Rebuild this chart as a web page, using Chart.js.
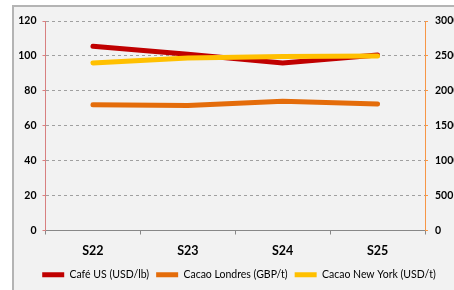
<!DOCTYPE html>
<html>
<head>
<meta charset="utf-8">
<script src="https://cdn.jsdelivr.net/npm/chart.js@4"></script>
<style>
  html, body { margin: 0; padding: 0; background: #fff; }
  #frame {
    position: absolute; left: 12px; top: 5px; width: 460px; height: 300px;
    border-left: 2px solid #b4b4b4; border-top: 2px solid #b4b4b4;
    background: #f2f2f2;
  }
  #chart { position: absolute; left: 0; top: 0; }
</style>
</head>
<body>
<div id="frame"></div>
<canvas id="chart" width="454" height="290"></canvas>
<script>
const saisons = ['S22', 'S23', 'S24', 'S25'];
const cafeUS = [105.5, 101, 96, 100.5];            // axe gauche
const cacaoLondres = [1800, 1790, 1850, 1810];     // axe droit
const cacaoNewYork = [2400, 2470, 2490, 2500];     // axe droit
const ticksGauche = [0, 20, 40, 60, 80, 100, 120];
const ticksDroite = [0, 500, 1000, 1500, 2000, 2500, 3000];

const police = "Lato, 'Open Sans', sans-serif";

// décale un peu la légende vers la droite, comme dans l'original
const decalLegende = {
    id: 'decalLegende',
    afterLayout(chart) {
        chart.legend.left += 5;
        chart.legend.right += 5;
    },
};

new Chart(document.getElementById('chart').getContext('2d'), {
    type: 'line',
    data: {
        labels: saisons,
        datasets: [
            { label: 'Café US (USD/lb)', data: cafeUS, yAxisID: 'y', borderColor: '#c00000', backgroundColor: '#c00000', order: 3 },
            { label: 'Cacao Londres (GBP/t)', data: cacaoLondres, yAxisID: 'y1', borderColor: '#e46c0a', backgroundColor: '#e46c0a', order: 2 },
            { label: 'Cacao New York (USD/t)', data: cacaoNewYork, yAxisID: 'y1', borderColor: '#ffc000', backgroundColor: '#ffc000', order: 1 },
        ],
    },
    options: {
        responsive: false,
        animation: false,
        elements: {
            line: { borderWidth: 5, tension: 0, borderCapStyle: 'round' },
            point: { radius: 0, hoverRadius: 0 },
        },
        layout: { padding: { top: 21, left: 14, right: 0, bottom: 0 } },
        plugins: {
            tooltip: { enabled: false },
            legend: {
                position: 'bottom',
                labels: {
                    color: '#000',
                    font: { family: police, size: 10.5 },
                    boxWidth: 22,
                    boxHeight: 5,
                    padding: 7,
                    sort: (a, b) => a.datasetIndex - b.datasetIndex,
                    generateLabels: chart => chart.data.datasets.map((ds, i) => ({
                        text: ds.label, fillStyle: ds.borderColor, strokeStyle: ds.borderColor,
                        lineWidth: 0, datasetIndex: i, fontColor: '#000',
                    })),
                },
            },
        },
        scales: {
            x: {
                offset: true,
                grid: { offset: true, drawOnChartArea: false, tickLength: 4, tickColor: '#888' },
                border: { color: '#888', width: 1 },
                ticks: { color: '#000', font: { family: police, size: 12.5, weight: 'bold' }, padding: 9 },
                afterFit: s => { s.height = 32; },
            },
            y: {
                position: 'left',
                min: 0, max: 120,
                afterBuildTicks: s => { s.ticks = ticksGauche.map(v => ({ value: v })); },
                grid: { color: '#a0a0a0', tickColor: '#d88080', tickLength: 3 },
                border: { color: '#d88080', dash: [3, 3] },
                ticks: { color: '#000', font: { family: police, size: 10.5, weight: 'bold' }, padding: 6, callback: v => String(v) },
                afterFit: s => { s.width = 31.5; },
            },
            y1: {
                position: 'right',
                min: 0, max: 3000,
                afterBuildTicks: s => { s.ticks = ticksDroite.map(v => ({ value: v })); },
                grid: { drawOnChartArea: false, tickColor: '#f79646', tickLength: 3 },
                border: { color: '#f79646' },
                ticks: { color: '#000', font: { family: police, size: 10.5, weight: 'bold' }, padding: 7, callback: v => String(v) },
                afterFit: s => { s.width = 29; },
            },
        },
    },
    plugins: [decalLegende],
});
</script>
</body>
</html>
